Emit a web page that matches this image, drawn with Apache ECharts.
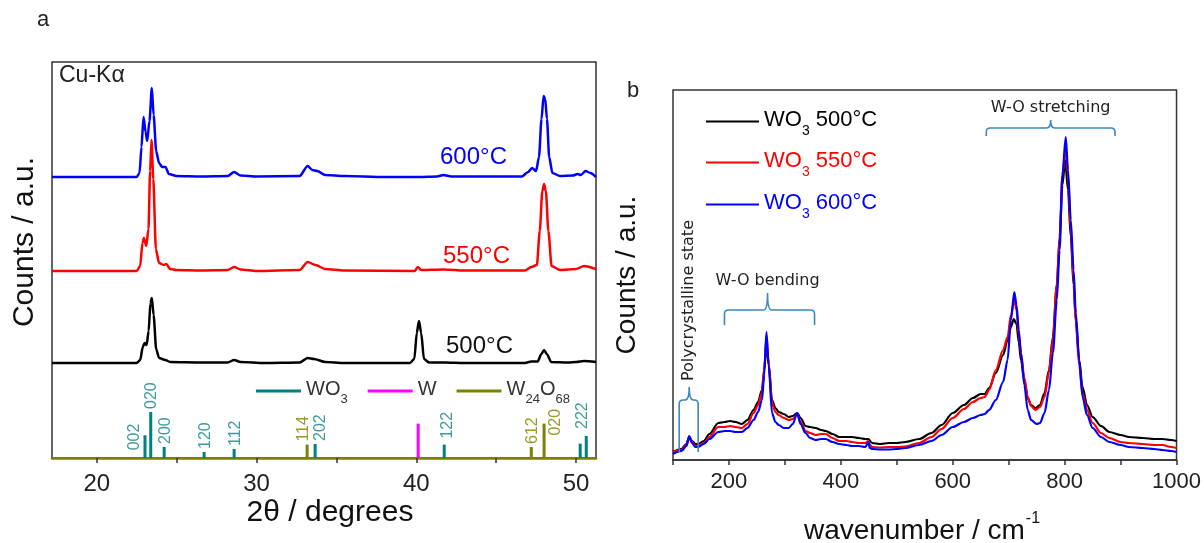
<!DOCTYPE html>
<html><head><meta charset="utf-8">
<script src="https://cdn.jsdelivr.net/npm/echarts@6/dist/echarts.min.js"></script>
<style>html,body{margin:0;padding:0;background:#fff}#c{width:1204px;height:543px}</style>
</head><body><div id="c"></div><script>
// ---------------- Panel a : XRD (2θ, intensity above own baseline) ----------------
const xrd500 = [[17.2,0],[22.5,0],[22.72,3],[22.88,16],[23.0,20],[23.12,18],[23.25,32],[23.36,60],[23.45,65],[23.56,48],[23.72,14],[23.9,5],[24.3,3],[24.6,1],[26.5,0.5],[28.2,0.5],[28.6,3],[29.0,1],[30.5,0],[32.7,0.5],[33.2,5],[33.6,4],[34.3,1],[35.5,0],[39.6,0],[39.88,4],[40.03,30],[40.17,42],[40.31,30],[40.48,4],[40.8,0.5],[41.8,0.5],[43,0],[46.8,0],[47.2,1.5],[47.6,1.5],[47.83,9],[48.0,13],[48.17,9],[48.45,1],[49.5,0.5],[50.0,1],[50.5,2],[51.25,1]];
const xrd550 = [[17.2,0],[22.5,0],[22.72,5],[22.86,28],[22.95,33],[23.1,25],[23.24,42],[23.34,100],[23.43,131],[23.54,92],[23.7,22],[23.9,8],[24.2,6],[24.35,7],[24.6,2],[25,1],[26.5,0.5],[28.2,1],[28.6,4],[29.0,1.5],[30,0],[32.7,1],[33.2,9],[33.7,6],[34.3,2],[35.5,0.5],[39.9,0],[40.1,4],[40.3,1],[41.7,1.5],[43,0.5],[46.8,0.5],[47.2,4],[47.55,6],[47.73,40],[47.89,80],[48.0,87],[48.11,80],[48.27,40],[48.47,5],[49,1],[50,2],[50.5,5],[51.25,2]];
const xrd600 = [[17.2,0],[22.5,0],[22.68,4],[22.8,30],[22.93,60],[23.06,45],[23.16,36],[23.3,56],[23.45,89],[23.56,62],[23.72,26],[23.9,14],[24.1,10],[24.3,10],[24.52,3],[25,1],[26.5,0.5],[28.2,1],[28.6,5],[29.0,1.5],[30,0.5],[32.7,1],[33.2,11],[33.5,7],[33.8,6],[34.3,2],[35.5,1],[38,0],[40.2,0],[41.3,0.5],[41.7,2],[42.2,0.5],[46.6,0.5],[47.0,5],[47.25,9],[47.5,6],[47.68,20],[47.84,58],[47.97,81],[48.07,78],[48.18,58],[48.32,20],[48.52,4],[49,1],[49.8,1.5],[50.1,3],[50.3,2],[50.6,6],[50.9,4],[51.25,0]];
const xrdOffsets = [95, 187, 281];            // vertical stacking offsets (a.u.)
const xrdNames = ['500°C', '550°C', '600°C'];

// reference sticks
const wo3Pos  = [23.02, 23.38, 24.22, 26.72, 28.6, 33.67, 41.75, 50.26, 50.64];
const wo3Int  = [22.7, 46, 11, 6, 9, 14, 13.4, 14.4, 22];
const wo3Hkl  = ['002', '020', '200', '120', '112', '202', '122', '', '222'];
const wPos    = [40.12];
const wInt    = [34.4];
const w24Pos  = [33.17, 47.2, 48.0];
const w24Int  = [13.4, 11, 34.4];
const w24Hkl  = ['114', '612', '020'];

// ---------------- Panel b : Raman ----------------
const ram500 = [[100,8],[115,11],[124,16],[129,23],[134,19],[140,16],[145,16],[155,19],[165,26],[181,37],[192,38],[202,39],[212,38],[223,36],[233,40],[244,50],[252,58],[259,70],[263,90],[267,117],[271,95],[277,60],[283,52],[289,48],[298,46],[307,43],[314,44],[322,47],[328,42],[337,34],[345,33],[355,32],[365,30],[373,29],[385,26],[397,23],[410,23],[420,23],[432,22],[444,21],[449,21],[456,17],[470,16],[486,17],[500,17],[515,18],[540,21],[562,27],[580,35],[600,47],[620,55],[636,62],[650,66],[657,66],[665,72],[677,87],[690,105],[698,120],[704,133],[709,141],[714,136],[718,118],[722,100],[728,80],[734,62],[740,55],[748,52],[756,55],[764,67],[772,90],[779,123],[786,175],[791,223],[796,275],[801,300],[806,270],[811,223],[816,175],[820,140],[826,100],[832,73],[840,55],[850,43],[865,34],[880,28],[900,25],[915,23],[940,22],[960,21],[975,21],[990,20],[1000,19]];
const ram550 = [[100,8],[115,10],[124,15],[129,22],[134,18],[140,14],[145,14],[155,17],[165,23],[181,33],[192,33],[202,34],[212,33],[223,32],[233,36],[244,47],[252,55],[259,67],[263,90],[267,123],[271,97],[277,57],[283,48],[289,45],[298,42],[307,40],[314,41],[322,46],[328,38],[337,29],[345,27],[355,25],[365,26],[373,26],[385,22],[397,19],[410,19],[420,18],[432,17],[444,17],[449,19],[452,15],[456,13],[470,12.5],[486,13],[500,13],[515,13.5],[540,17],[562,23],[580,31],[600,42],[620,51],[636,58],[650,62],[657,63],[665,70],[677,90],[690,110],[698,123],[704,145],[710,160],[714,150],[718,125],[722,107],[728,82],[734,63],[740,54],[748,50],[756,53],[764,63],[772,88],[779,120],[786,175],[791,220],[796,285],[802,313],[806,285],[811,230],[816,180],[820,137],[826,95],[832,67],[840,50],[850,37],[865,27],[880,22],[900,18],[915,17],[940,16],[960,15],[975,15],[990,13],[1000,12]];
const ram600 = [[100,6],[115,9],[124,14],[129,24],[134,17],[140,13],[145,13],[155,16],[165,21],[181,28],[192,29],[202,29],[212,28],[223,28],[233,32],[244,40],[252,48],[259,60],[263,85],[267,128],[271,95],[277,47],[283,38],[289,35],[298,32],[307,32],[314,36],[322,47],[328,36],[337,27],[345,22],[355,20],[365,21],[373,21],[385,18],[397,16],[410,15],[420,14],[432,14],[444,13],[449,18],[452,12],[456,11],[470,10.5],[486,10.5],[500,11],[515,12],[540,15],[562,19],[580,25],[600,33],[620,38],[636,42],[650,45],[657,46],[665,50],[677,60],[690,78],[698,100],[704,140],[710,168],[714,155],[718,130],[722,107],[728,75],[734,50],[740,40],[750,36],[756,37],[764,47],[772,70],[779,107],[786,160],[791,210],[796,285],[802,323],[806,290],[811,240],[816,190],[820,147],[826,100],[832,63],[840,45],[850,32],[865,23],[880,18],[900,15],[915,13],[940,12],[960,11],[975,10],[990,9],[1000,8]];
const ramNames = ['WO3 500°C', 'WO3 550°C', 'WO3 600°C'];

// band annotations (brace from / to / middle, bar level, end level, tip level)
const braceText  = ['W-O stretching', 'W-O bending', 'Polycrystalline state'];
const braceFrom  = [660, 192, 111];
const braceTo    = [890, 353, 145];
const braceMid   = [775, 269, 129];
const braceLevel = [332, 150, 60];
const braceEnd   = [324, 135, 8];
const braceTip   = [340, 167, 73];

// tick labels
const xrdTickLabels = [20, 30, 40, 50];
const xrdTicks = [20, 25, 30, 35, 40, 45, 50];

// ---------------- styling ----------------
const FONT = 'Liberation Sans, Arial, sans-serif';
const cXrd = ['#000000', '#ff0000', '#0000ff'];
const TEAL = '#008080', MAG = '#ff00ff', OLIVE = '#808000';
const TEAL_T = '#3f9b9b', OLIVE_T = '#9a9a2a';
const BRACE = '#3a88bf';

// pixel tweaks for stick labels (layout only)
const labelShift = { '002': [-10, 18], '114': [-4, 0], '202': [5, 0], '122': [3, -3], '020o': [12, 15], '222': [-4, -4] };

function stickSeries(name, pos, ints, hkl, color, textColor, key) {
  return {
    name, type: 'custom', xAxisIndex: 0, yAxisIndex: 0, coordinateSystem: 'cartesian2d',
    itemStyle: { color }, z: 3,
    data: pos.map((p, i) => [p, ints[i], i]),
    renderItem: function (params, api) {
      const x = api.value(0), h = api.value(1), i = api.value(2);
      const p0 = api.coord([x, 0]), p1 = api.coord([x, h]);
      const children = [{ type: 'line', shape: { x1: p0[0], y1: p0[1], x2: p1[0], y2: p1[1] },
        style: { stroke: color, lineWidth: 3 } }];
      const lab = hkl ? hkl[i] : '';
      if (lab) {
        const k = (key === 'o' && lab === '020') ? '020o' : lab;
        const sh = labelShift[k] || [1, 0];
        children.push({ type: 'text', x: p1[0] + sh[0], y: p1[1] - 3 + sh[1], rotation: Math.PI / 2,
          style: { text: lab, fill: textColor, font: '16px ' + FONT, align: 'left', verticalAlign: 'middle' } });
      }
      return { type: 'group', children };
    }
  };
}

const chart = echarts.init(document.getElementById('c'));

const subRichA = {
  a: { fontSize: 20, lineHeight: 24, verticalAlign: 'top', color: '#333', fontFamily: FONT },
  s: { fontSize: 13, lineHeight: 13, padding: [17, 0, 0, 0], color: '#333', fontFamily: FONT }
};
function ramLegend(name, color, top) {
  return {
    data: [name], left: 701, top, orient: 'vertical', icon: 'rect', itemWidth: 53, itemHeight: 2, itemGap: 0,
    selectedMode: false,
    formatter: n => '{a|WO}{s|3}{a| ' + n.split(' ')[1] + '}',
    textStyle: { rich: {
      a: { fontSize: 22, lineHeight: 26, verticalAlign: 'top', color, fontFamily: FONT },
      s: { fontSize: 14, lineHeight: 14, padding: [19, 0, 0, 0], color, fontFamily: FONT } } }
  };
}

const option = {
  animation: false,
  backgroundColor: '#fff',
  grid: [
    { left: 52, right: 608, top: 62, bottom: 85, show: true, borderColor: '#333', borderWidth: 1.5 },
    { left: 673, right: 27, top: 90, bottom: 83, show: true, borderColor: '#333', borderWidth: 1.5 }
  ],
  xAxis: [
    { type: 'value', gridIndex: 0, min: 17.2, max: 51.25,
      axisLine: { show: true, lineStyle: { color: OLIVE, width: 2.5 } },
      axisTick: { show: true, customValues: xrdTicks, length: 5, lineStyle: { color: '#333', width: 1.5 } },
      axisLabel: { customValues: xrdTickLabels, fontSize: 24, color: '#222', fontFamily: FONT, margin: 14 },
      splitLine: { show: false } },
    { type: 'value', gridIndex: 1, min: 100, max: 1000, interval: 100,
      axisLine: { show: true, lineStyle: { color: '#333', width: 1.5 } },
      axisTick: { show: true, length: 5, lineStyle: { color: '#333', width: 1.5 } },
      axisLabel: { fontSize: 22, color: '#222', fontFamily: FONT, margin: 11,
        formatter: v => (v % 200 === 0 ? String(v) : '') },
      splitLine: { show: false } }
  ],
  yAxis: [
    { type: 'value', gridIndex: 0, min: 0, max: 396, show: false, splitLine: { show: false } },
    { type: 'value', gridIndex: 1, min: 0, max: 370, show: false, splitLine: { show: false } }
  ],
  legend: [
    { data: ['WO3', 'W', 'W24O68'], left: 251, top: 371, icon: 'rect', itemWidth: 45, itemHeight: 3, itemGap: 20,
      selectedMode: false,
      formatter: n => n === 'WO3' ? '{a|WO}{s|3}' : (n === 'W' ? '{a|W}' : '{a|W}{s|24}{a|O}{s|68}'),
      textStyle: { rich: subRichA } },
    ramLegend(ramNames[0], '#000', 100),
    ramLegend(ramNames[1], '#ff0000', 141),
    ramLegend(ramNames[2], '#0000ff', 183)
  ],
  series: [
    ...xrdNames.map((n, k) => ({
      name: n, type: 'line', xAxisIndex: 0, yAxisIndex: 0, showSymbol: false, symbol: 'none',
      smooth: 0.25, smoothMonotone: 'x', lineStyle: { color: cXrd[k], width: 2.5 }, itemStyle: { color: cXrd[k] },
      z: 4 + k,
      data: [xrd500, xrd550, xrd600][k].map(d => [d[0], d[1] + xrdOffsets[k]])
    })),
    stickSeries('WO3', wo3Pos, wo3Int, wo3Hkl, TEAL, TEAL_T, 't'),
    stickSeries('W', wPos, wInt, null, MAG, MAG, 'w'),
    stickSeries('W24O68', w24Pos, w24Int, w24Hkl, OLIVE, OLIVE_T, 'o'),
    ...ramNames.map((n, k) => ({
      name: n, type: 'line', xAxisIndex: 1, yAxisIndex: 1, showSymbol: false, symbol: 'none',
      smooth: 0.3, smoothMonotone: 'x', lineStyle: { color: cXrd[k], width: 2.2 }, itemStyle: { color: cXrd[k] },
      z: 4 + k,
      data: [ram500, ram550, ram600][k]
    })),
    { name: 'braces', type: 'custom', xAxisIndex: 1, yAxisIndex: 1, coordinateSystem: 'cartesian2d', z: 8,
      data: braceText.map((t, i) => [braceMid[i], braceLevel[i], i]),
      renderItem: function (params, api) {
        const i = api.value(2);
        const L = api.coord([braceFrom[i], braceLevel[i]]);
        const R = api.coord([braceTo[i], braceLevel[i]]);
        const M = api.coord([braceMid[i], braceLevel[i]]);
        const YE = api.coord([braceMid[i], braceEnd[i]])[1];
        const YT = api.coord([braceMid[i], braceTip[i]])[1];
        const X1 = L[0], X2 = R[0], XM = M[0], YL = M[1];
        const r = Math.min(4, Math.abs(YE - YL) / 2, (X2 - X1) / 4);
        const s = YE > YL ? 1 : -1;
        const d = ['M', X1, YE, 'L', X1, YL + s * r, 'Q', X1, YL, X1 + r, YL, 'L', XM - r, YL,
          'Q', XM, YL, XM, YT, 'Q', XM, YL, XM + r, YL, 'L', X2 - r, YL,
          'Q', X2, YL, X2, YL + s * r, 'L', X2, YE].join(' ');
        const rot = braceText[i] === 'Polycrystalline state';
        return { type: 'group', children: [
          { type: 'path', shape: { pathData: d }, style: { stroke: BRACE, fill: null, lineWidth: 1.6 } },
          { type: 'text', x: XM, y: YT - (rot ? 6 : 4), rotation: rot ? Math.PI / 2 : 0,
            style: { text: braceText[i], fill: '#222', font: '16px DejaVu Sans',
              align: rot ? 'left' : 'center', verticalAlign: rot ? 'middle' : 'bottom',
              backgroundColor: rot ? '#fff' : null } }
        ] };
      }
    }
  ],
  graphic: [
    { type: 'text', left: 37, top: 9, style: { text: 'a', font: '22px ' + FONT, fill: '#222' } },
    { type: 'text', left: 627, top: 80, style: { text: 'b', font: '22px ' + FONT, fill: '#222' } },
    { type: 'text', left: 59, top: 64, style: { text: 'Cu-Kα', font: '23px ' + FONT, fill: '#222' } },
    { type: 'text', left: 440, top: 145, style: { text: '600°C', font: '24px ' + FONT, fill: '#0000ff' } },
    { type: 'text', left: 443, top: 244, style: { text: '550°C', font: '24px ' + FONT, fill: '#ff0000' } },
    { type: 'text', left: 446, top: 334, style: { text: '500°C', font: '24px ' + FONT, fill: '#111' } },
    { type: 'text', x: 25, y: 242, rotation: Math.PI / 2,
      style: { text: 'Counts / a.u.', font: '30px ' + FONT, fill: '#111', align: 'center', verticalAlign: 'middle' } },
    { type: 'text', x: 330, y: 513,
      style: { text: '2θ / degrees', font: '30px ' + FONT, fill: '#111', align: 'center', verticalAlign: 'middle' } },
    { type: 'text', x: 627, y: 275, rotation: Math.PI / 2,
      style: { text: 'Counts / a.u.', font: '28px ' + FONT, fill: '#111', align: 'center', verticalAlign: 'middle' } },
    { type: 'text', x: 922, y: 528,
      style: { text: '{m|wavenumber / cm}{p|-1}', align: 'center', verticalAlign: 'middle',
        rich: { m: { font: '28px ' + FONT, fill: '#111', lineHeight: 34, verticalAlign: 'bottom' },
                p: { font: '16px ' + FONT, fill: '#111', lineHeight: 34, verticalAlign: 'top', padding: [0, 0, 14, 1] } } } }
  ]
};
chart.setOption(option);
</script></body></html>
